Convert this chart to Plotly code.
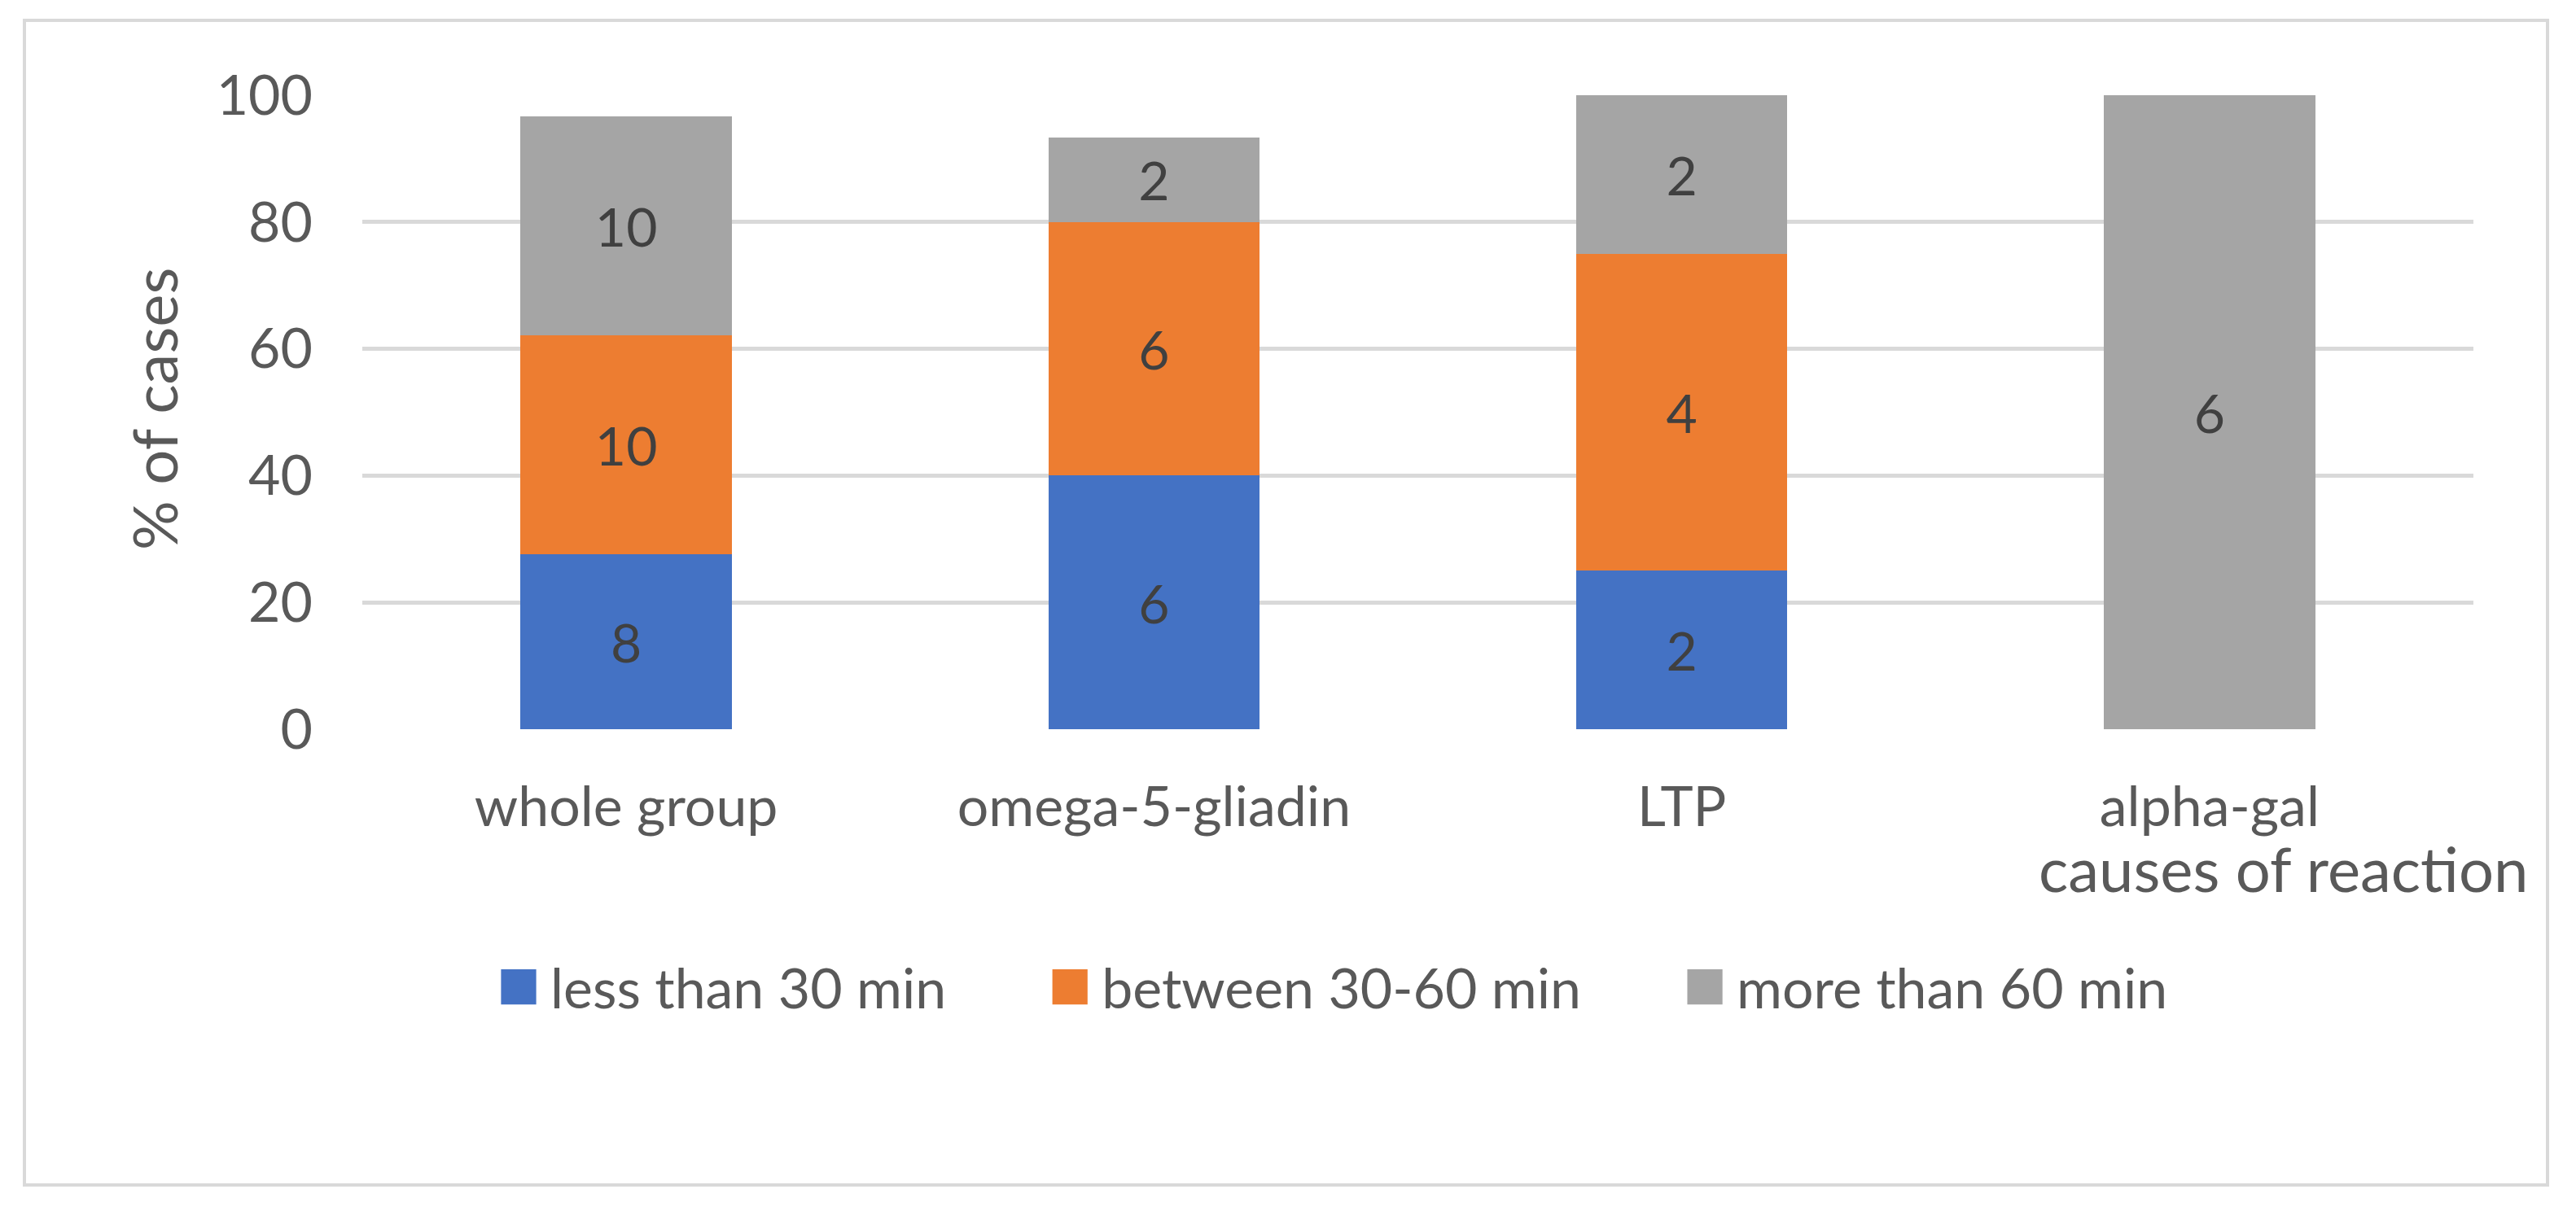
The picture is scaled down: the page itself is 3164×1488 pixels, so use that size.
import plotly.graph_objects as go

# ---------------- data ----------------
categories = ["whole group", "omega-5-gliadin", "LTP", "alpha-gal"]
series_names = ["less than 30 min", "between 30-60 min", "more than 60 min"]
less_30_pct = [27.6, 40.0, 25.0, 0.0]
between_30_60_pct = [34.5, 40.0, 50.0, 0.0]
more_60_pct = [34.5, 13.3, 25.0, 100.0]
less_30_n = ["8", "6", "2", ""]
between_30_60_n = ["10", "6", "4", ""]
more_60_n = ["10", "2", "2", "6"]
y_ticks = [0, 20, 40, 60, 80, 100]
y_title = "% of cases"
x_title = "causes of reaction"

# ---------------- style ----------------
W, H = 3164, 1488
PL, PR, PT, PB = 445, 3038, 117, 896  # plot area in px
colors = ["#4472C4", "#ED7D31", "#A5A5A5"]
FONT = "Lato"
GRID = "#D9D9D9"


def px_x(x):
    return (x - PL) / (PR - PL)


def px_y(y):
    return (PB - y) / (PB - PT)


fig = go.Figure()
for name, vals, txt, col in zip(series_names,
                                [less_30_pct, between_30_60_pct, more_60_pct],
                                [less_30_n, between_30_60_n, more_60_n],
                                colors):
    fig.add_trace(go.Bar(
        name=name, x=categories, y=vals, text=txt,
        marker=dict(color=col, line=dict(width=0)),
        textposition="inside", insidetextanchor="middle", textangle=0,
        constraintext="none",
        textfont=dict(family=FONT, size=66, color="#404040"),
        hoverinfo="skip",
    ))

fig.update_layout(
    width=W, height=H,
    margin=dict(l=PL, r=W - PR, t=PT, b=H - PB, pad=0),
    barmode="stack", bargap=0.6,
    paper_bgcolor="white", plot_bgcolor="white",
    font=dict(family=FONT, size=68, color="#595959"),
    showlegend=True,
    legend=dict(orientation="h", x=px_x(490), xanchor="left",
                y=px_y(1213), yanchor="middle",
                font=dict(family=FONT, size=68, color="#595959"),
                itemwidth=176, traceorder="normal",
                bgcolor="rgba(0,0,0,0)"),
    xaxis=dict(showgrid=False, showline=False, zeroline=False, ticks="",
               tickfont=dict(family=FONT, size=68, color="#595959"),
               ticklabelstandoff=50, fixedrange=True),
    yaxis=dict(range=[0, 100], tickvals=y_ticks, showgrid=True,
               gridcolor=GRID, gridwidth=5, zeroline=False, showline=False,
               ticks="", tickfont=dict(family=FONT, size=68, color="#595959"),
               ticklabelstandoff=60, fixedrange=True),
)

fig.add_annotation(text=y_title, xref="paper", yref="paper",
                   x=px_x(188), y=px_y(503), xanchor="center", yanchor="middle",
                   textangle=-90, showarrow=False,
                   font=dict(family=FONT, size=76, color="#595959"))
fig.add_annotation(text=x_title, xref="paper", yref="paper",
                   x=px_x(3107), y=px_y(1066), xanchor="right", yanchor="middle",
                   showarrow=False,
                   font=dict(family=FONT, size=76, color="#595959"))

fig.add_shape(type="rect", xref="paper", yref="paper",
              x0=px_x(30), x1=px_x(3129), y0=px_y(1456), y1=px_y(25),
              line=dict(color=GRID, width=4), fillcolor="rgba(0,0,0,0)",
              layer="below")

post = """
document.body.style.margin='0';
document.body.style.overflow='hidden';
document.querySelectorAll('.legendpoints path').forEach(function(p){
  var t = p.getAttribute('transform') || '';
  p.setAttribute('transform', t + ' translate(54,0) scale(3.6)');
});
"""
fig.write_html("out.html", post_script=post,
               config={"displayModeBar": False, "staticPlot": True})
